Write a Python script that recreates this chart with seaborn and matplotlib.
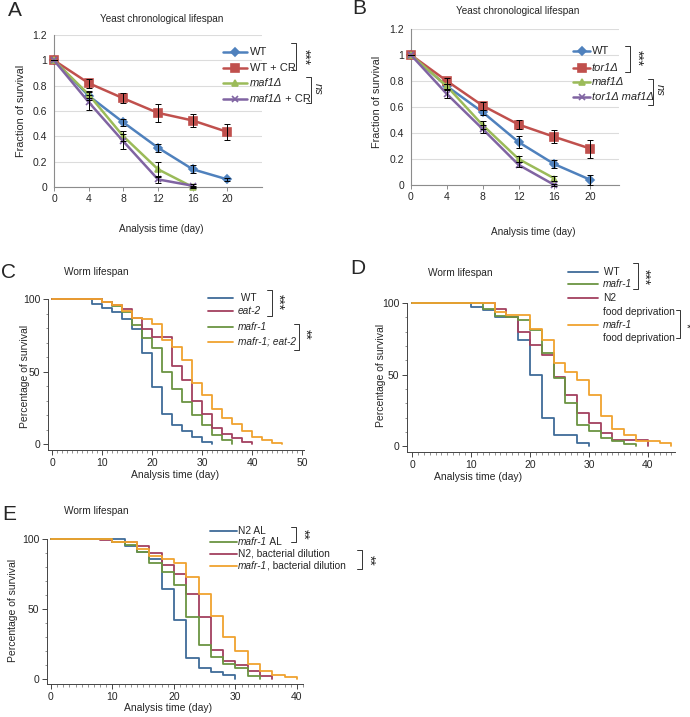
import matplotlib
matplotlib.use('Agg')
import matplotlib.pyplot as plt
import seaborn as sns
import pandas as pd
from matplotlib.lines import Line2D
from matplotlib.ticker import MultipleLocator, FormatStrFormatter

# ---------------- yeast chronological lifespan (A, B)
yeast_days = [0, 4, 8, 12, 16, 20]

a_labels = ['WT', 'WT + CR', 'maf1Δ', 'maf1Δ + CR']
a_wt = [1, 0.72, 0.51, 0.31, 0.14, 0.06]
a_wt_err = [0, 0.03, 0.03, 0.03, 0.03, 0.015]
a_wt_cr = [1, 0.82, 0.70, 0.585, 0.525, 0.435]
a_wt_cr_err = [0, 0.035, 0.04, 0.07, 0.055, 0.065]
a_maf1 = [1, 0.73, 0.40, 0.14, 0.0]
a_maf1_err = [0, 0.03, 0.04, 0.06, 0.01]
a_maf1_cr = [1, 0.67, 0.36, 0.06, 0.01]
a_maf1_cr_err = [0, 0.06, 0.06, 0.03, 0.01]

b_labels = ['WT', 'tor1Δ', 'maf1Δ', 'tor1Δ maf1Δ']
b_wt = [1, 0.76, 0.56, 0.33, 0.16, 0.04]
b_wt_err = [0, 0.02, 0.02, 0.045, 0.03, 0.04]
b_tor1 = [1, 0.80, 0.61, 0.465, 0.37, 0.28]
b_tor1_err = [0, 0.02, 0.03, 0.035, 0.05, 0.07]
b_maf1 = [1, 0.76, 0.46, 0.20, 0.05]
b_maf1_err = [0, 0.02, 0.03, 0.02, 0.02]
b_tor1_maf1 = [1, 0.70, 0.43, 0.155, 0.0]
b_tor1_maf1_err = [0, 0.03, 0.03, 0.02, 0.01]

# ---------------- worm lifespan (C, D, E): step survival curves
c_wt_t = [0, 8, 10, 12, 14, 16, 18, 20, 22, 24, 26, 28, 30, 32]
c_wt_s = [100, 96.5, 94, 91, 86, 79, 63, 39, 20.5, 13, 8.7, 5, 1.4, 0]
c_eat2_t = [0, 10, 12, 14, 16, 18, 20, 24, 26, 28, 30, 32, 34, 36, 38, 40]
c_eat2_s = [100, 98, 96, 93, 87, 79, 73.5, 54, 44, 30, 21, 11, 7, 4, 1.5, 0]
c_mafr_t = [0, 10, 12, 14, 16, 18, 20, 22, 24, 26, 28, 30, 32, 34, 36]
c_mafr_s = [100, 98, 95, 91, 82, 73, 66, 50, 38, 29, 20, 13, 6.5, 3, 0]
c_both_t = [0, 10, 12, 14, 16, 18, 20, 22, 24, 26, 28, 30, 32, 34, 36, 38, 40, 42, 44, 46]
c_both_s = [100, 98, 96, 92, 87, 86, 83, 72, 67, 58, 42, 34, 24, 18, 14, 9, 5, 2.5, 1, 0]

d_wt_t = [0, 10, 12, 14, 18, 20, 22, 24, 28, 30]
d_wt_s = [100, 97.5, 95, 90.5, 74, 50, 20, 8, 2.5, 0]
d_mafr_t = [0, 12, 14, 16, 18, 20, 22, 24, 26, 28, 30, 32, 34, 36, 38]
d_mafr_s = [100, 96, 91, 90, 88, 81, 65, 48, 30, 15, 11, 6, 4, 1.5, 0]
d_n2fd_t = [0, 14, 16, 18, 20, 22, 24, 26, 28, 30, 32, 34, 40]
d_n2fd_s = [100, 95.5, 90, 80, 71, 64, 48.5, 36, 23, 16, 9, 4.5, 0]
d_mafrfd_t = [0, 14, 16, 20, 22, 24, 26, 28, 30, 32, 34, 36, 38, 42, 44]
d_mafrfd_s = [100, 94, 91.5, 82, 74.5, 58, 52, 46, 36, 21, 12, 8, 4, 2, 0]

e_n2al_t = [0, 12, 14, 16, 18, 20, 22, 24, 26, 28, 30]
e_n2al_s = [100, 95, 90.5, 86, 64.5, 42, 15, 7.5, 5, 2.5, 0]
e_mafral_t = [0, 10, 12, 14, 16, 18, 20, 22, 24, 26, 28, 30, 32, 34]
e_mafral_s = [100, 97.5, 95.5, 91, 83, 76.5, 67, 44, 24, 16, 11, 7.5, 2, 0]
e_n2bd_t = [0, 8, 10, 14, 16, 18, 20, 22, 24, 26, 28, 30, 32, 34, 36]
e_n2bd_s = [100, 99, 97.5, 95, 90, 81.5, 75, 61, 44, 21, 13, 10, 6, 2, 0]
e_mafrbd_t = [0, 10, 14, 16, 18, 20, 22, 24, 26, 28, 30, 32, 34, 36, 38, 40]
e_mafrbd_s = [100, 97.5, 93, 88, 86, 83, 73, 61, 45, 30, 20, 11, 6, 3, 1.5, 0]

excel_colors = ['#4F81BD', '#C0504D', '#9BBB59', '#8064A2']
excel_markers = ['D', 's', '^', 'x']
excel_msize = [3.6, 5.2, 4.8, 4.6]
worm_colors = {'blue': '#3f6b99', 'red': '#a3405f', 'green': '#6b9442', 'orange': '#f0a32f'}

sns.set_theme(style='white')
plt.rcParams['font.family'] = ['Liberation Sans', 'DejaVu Sans']
plt.rcParams['axes.unicode_minus'] = False

W, H = 690, 717
fig = plt.figure(figsize=(W / 100, H / 100), dpi=100)
renderer = fig.canvas.get_renderer()


def add_ax(left, top, right, bottom):
    return fig.add_axes([left / W, 1 - bottom / H, (right - left) / W, (bottom - top) / H])


def ftext(x, y, s, **kw):
    return fig.text(x / W, 1 - y / H, s, **kw)


def rich(x, y, parts, size):
    # text pieces with different styles next to each other
    for s, style in parts:
        t = ftext(x, y, s, fontsize=size, style=style, ha='left', va='center')
        x += t.get_window_extent(renderer).width


def fline(xs, ys, **kw):
    fig.add_artist(Line2D([v / W for v in xs], [1 - v / H for v in ys],
                          transform=fig.transFigure, **kw))


def key(x0, x1, y, color, lw, marker=None, ms=None):
    fline([x0, x1], [y, y], color=color, lw=lw)
    if marker:
        fline([(x0 + x1) / 2], [y], color=color, marker=marker, ms=ms, mew=1.2, lw=0)


def bracket(x, y0, y1, tick, label, lx, ly, size=10, style='normal'):
    fline([x - tick, x, x, x - tick], [y0, y0, y1, y1], color='#333333', lw=0.7)
    ftext(lx, ly, label, rotation=270, ha='center', va='center', fontsize=size, style=style)


# ---------------- yeast panels
def yeast_panel(ax, series, xmax):
    for i, (vals, errs) in enumerate(series):
        days = yeast_days[:len(vals)]
        sns.lineplot(x=days, y=vals, ax=ax, color=excel_colors[i], lw=1.8,
                     marker=excel_markers[i], markersize=excel_msize[i],
                     markeredgecolor=excel_colors[i], markeredgewidth=1.2,
                     clip_on=False, zorder=3 + i, legend=False)
        ax.errorbar(days, vals, yerr=errs, fmt='none', ecolor='black',
                    elinewidth=0.7, capsize=2, capthick=0.7, zorder=10, clip_on=False)
    ax.set_xlim(0, xmax)
    ax.set_ylim(0, 1.2)
    ax.set_xticks(yeast_days)
    ax.set_yticks([0, 0.2, 0.4, 0.6, 0.8, 1.0, 1.2])
    ax.yaxis.set_major_formatter(FormatStrFormatter('%g'))
    ax.grid(axis='y', color='#dcdcdc', lw=0.8)
    ax.set_axisbelow(True)
    for s in ['top', 'right']:
        ax.spines[s].set_visible(False)
    for s in ['left', 'bottom']:
        ax.spines[s].set_color('#8c8c8c')
        ax.spines[s].set_linewidth(0.8)
    ax.tick_params(axis='x', length=3, width=0.7, color='#8c8c8c', pad=2,
                   labelsize=7.5, bottom=True)
    ax.tick_params(axis='y', length=0, pad=5, labelsize=7.5)
    ax.set_xlabel('')
    ax.set_ylabel('')


axA = add_ax(54, 35, 262, 187)
yeast_panel(axA, [(a_wt, a_wt_err), (a_wt_cr, a_wt_cr_err),
                  (a_maf1, a_maf1_err), (a_maf1_cr, a_maf1_cr_err)], 24)
axB = add_ax(411, 29, 619, 185)
yeast_panel(axB, [(b_wt, b_wt_err), (b_tor1, b_tor1_err),
                  (b_maf1, b_maf1_err), (b_tor1_maf1, b_tor1_maf1_err)], 23.2)

ftext(15, 11, 'A', fontsize=15, ha='center', va='center')
ftext(359, 9, 'B', fontsize=15, ha='center', va='center')
ftext(162, 19, 'Yeast chronological lifespan', fontsize=7.2, ha='center', va='center')
ftext(518, 11, 'Yeast chronological lifespan', fontsize=7.2, ha='center', va='center')
ftext(21, 111, 'Fraction of survival', fontsize=7.8, rotation=90, ha='center', va='center')
ftext(377, 102, 'Fraction of survival', fontsize=7.8, rotation=90, ha='center', va='center')
ftext(161, 229, 'Analysis time (day)', fontsize=7.2, ha='center', va='center')
ftext(533, 232, 'Analysis time (day)', fontsize=7.2, ha='center', va='center')

# legend A
a_rows = [52, 68, 83, 99]
for i, y in enumerate(a_rows):
    key(223, 247, y, excel_colors[i], 1.8, excel_markers[i], excel_msize[i])
rich(250, a_rows[0], [('WT', 'normal')], 8)
rich(250, a_rows[1], [('WT + CR', 'normal')], 8)
rich(250, a_rows[2], [('maf1Δ', 'italic')], 8)
rich(250, a_rows[3], [('maf1Δ', 'italic'), (' + CR', 'normal')], 8)
bracket(296, 43, 70, 5, '***', 304, 57)
bracket(311, 77, 103, 5, 'ns', 318, 89, size=8, style='italic')

# legend B
b_rows = [51, 68, 82, 97]
for i, y in enumerate(b_rows):
    key(573, 590, y, excel_colors[i], 1.8, excel_markers[i], excel_msize[i])
rich(592, b_rows[0], [('WT', 'normal')], 8)
rich(592, b_rows[1], [('tor1Δ', 'italic')], 8)
rich(592, b_rows[2], [('maf1Δ', 'italic')], 8)
rich(592, b_rows[3], [('tor1Δ maf1Δ', 'italic')], 8)
bracket(630, 46, 72, 5, '***', 637, 58)
bracket(653, 79, 105, 5, 'ns', 660, 90, size=8, style='italic')


# ---------------- worm panels
def worm_panel(ax, curves, xlim, ylim, xmax_tick):
    for t, s, c in curves:
        df = pd.DataFrame({'day': t, 'surv': s})
        sns.lineplot(data=df, x='day', y='surv', ax=ax, color=worm_colors[c],
                     drawstyle='steps-post', lw=1.3, estimator=None, sort=False,
                     clip_on=False, legend=False)
    ax.set_xlim(*xlim)
    ax.set_ylim(*ylim)
    ax.set_xticks(range(0, xmax_tick + 1, 10))
    ax.xaxis.set_minor_locator(MultipleLocator(1))
    ax.set_yticks([0, 50, 100])
    ax.yaxis.set_minor_locator(MultipleLocator(10))
    for s in ['top', 'right']:
        ax.spines[s].set_visible(False)
    for s in ['left', 'bottom']:
        ax.spines[s].set_color('#444444')
        ax.spines[s].set_linewidth(0.7)
    ax.spines['left'].set_bounds(ylim[0], 100)
    ax.tick_params(which='major', length=3.5, width=0.7, color='#444444',
                   labelsize=7.5, pad=2, left=True, bottom=True)
    ax.tick_params(which='minor', length=1.8, width=0.5, color='#666666',
                   left=True, bottom=True)
    ax.set_xlabel('')
    ax.set_ylabel('')


axC = add_ax(48, 297, 304, 450)
worm_panel(axC, [(c_wt_t, c_wt_s, 'blue'), (c_mafr_t, c_mafr_s, 'green'),
                 (c_eat2_t, c_eat2_s, 'red'), (c_both_t, c_both_s, 'orange')],
           (-0.86, 50.3), (-4.1, 101.4), 50)
axD = add_ax(407, 301, 675, 452)
worm_panel(axD, [(d_wt_t, d_wt_s, 'blue'), (d_n2fd_t, d_n2fd_s, 'red'),
                 (d_mafr_t, d_mafr_s, 'green'), (d_mafrfd_t, d_mafrfd_s, 'orange')],
           (-0.85, 44.6), (-4.0, 101.4), 40)
axE = add_ax(47, 537, 303, 684)
worm_panel(axE, [(e_n2al_t, e_n2al_s, 'blue'), (e_n2bd_t, e_n2bd_s, 'red'),
                 (e_mafral_t, e_mafral_s, 'green'), (e_mafrbd_t, e_mafrbd_s, 'orange')],
           (-0.65, 41), (-3.6, 101.4), 40)

for lx, ly, lab in [(9, 272, 'C'), (358, 268, 'D'), (9, 514, 'E')]:
    ftext(lx, ly, lab, fontsize=15, ha='center', va='center')
for tx, ty in [(96, 272), (460, 273), (96, 511)]:
    ftext(tx, ty, 'Worm lifespan', fontsize=7.3, ha='center', va='center')
for yx, yy in [(25, 376), (381, 375), (13, 610)]:
    ftext(yx, yy, 'Percentage of survival', fontsize=7.5, rotation=90, ha='center', va='center')
for xx, xy in [(175, 475), (478, 477), (168, 708)]:
    ftext(xx, xy, 'Analysis time (day)', fontsize=7.5, ha='center', va='center')

# legend C
c_rows = [298, 311, 327, 342]
for y, c in zip(c_rows, ['blue', 'red', 'green', 'orange']):
    key(208, 233, y, worm_colors[c], 1.3)
rich(238, c_rows[0], [(' WT', 'normal')], 7.3)
rich(238, c_rows[1], [('eat-2', 'italic')], 7.3)
rich(238, c_rows[2], [('mafr-1', 'italic')], 7.3)
rich(238, c_rows[3], [('mafr-1; eat-2', 'italic')], 7.3)
bracket(272, 290, 316, 5, '***', 278, 302)
bracket(299, 324, 350, 5, '**', 305, 334)

# legend D
key(568, 598, 272, worm_colors['blue'], 1.3)
key(568, 598, 284, worm_colors['green'], 1.3)
key(568, 598, 298, worm_colors['red'], 1.3)
key(568, 598, 325, worm_colors['orange'], 1.3)
rich(601, 272, [(' WT', 'normal')], 7.3)
rich(603, 284, [('mafr-1', 'italic')], 7.3)
rich(603, 298, [('N2', 'normal')], 7.3)
rich(603, 312, [('food deprivation', 'normal')], 7.3)
rich(603, 325, [('mafr-1', 'italic')], 7.3)
rich(603, 338, [('food deprivation', 'normal')], 7.3)
bracket(638, 263, 289, 5, '***', 644, 277)
bracket(680, 310, 338, 4, '*', 685, 325, size=9)

# legend E
e_rows = [531, 542, 554, 566]
for y, c in zip(e_rows, ['blue', 'green', 'red', 'orange']):
    key(210, 237, y, worm_colors[c], 1.3)
rich(238, e_rows[0], [('N2 AL', 'normal')], 7.3)
rich(238, e_rows[1], [('mafr-1', 'italic'), (' AL', 'normal')], 7.3)
rich(238, e_rows[2], [('N2, bacterial dilution', 'normal')], 7.3)
rich(238, e_rows[3], [('mafr-1', 'italic'), (', bacterial dilution', 'normal')], 7.3)
bracket(296, 527, 542, 5, '**', 303, 534)
bracket(362, 550, 569, 5, '**', 369, 560)

fig.savefig('out.png', dpi=100)
